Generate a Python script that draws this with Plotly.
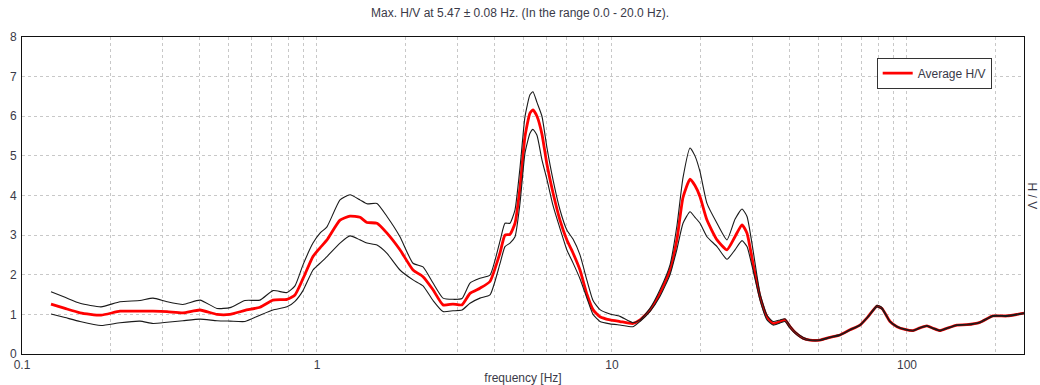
import math
import plotly.graph_objects as go

freq = [0.1254, 0.1399, 0.1573, 0.1853, 0.2149, 0.2512, 0.2780, 0.3101, 0.3513, 0.4013,
        0.4581, 0.5071, 0.5700, 0.6408, 0.7091, 0.7912, 0.8421, 0.8965, 0.9692, 1.024,
        1.081, 1.197, 1.294, 1.399, 1.477, 1.597, 1.727, 1.911, 2.116, 2.288,
        2.474, 2.674, 2.891, 3.101, 3.301, 3.568, 3.858, 4.172, 4.338, 4.511,
        4.691, 4.877, 5.071, 5.272, 5.397, 5.568, 5.789, 6.021, 6.310, 6.663,
        7.039, 7.376, 7.790, 8.230, 8.623, 9.107, 9.845, 10.64, 11.78, 12.44,
        13.45, 14.54, 15.73, 16.61, 17.41, 18.39, 19.11, 19.88, 20.99, 22.70,
        24.54, 26.12, 27.59, 28.69, 30.06, 31.75, 33.53, 35.14, 37.12, 38.59,
        40.13, 41.72, 44.41, 46.91, 50.71, 54.83, 59.28, 64.10, 69.29, 73.76,
        79.13, 82.30, 87.60, 92.48, 98.44, 104.8, 110.7, 116.9, 122.5, 129.4,
        136.6, 147.7, 159.7, 176.8, 195.6, 218.3, 249.3]

avg_hv = [1.26, 1.15, 1.04, 0.98, 1.08, 1.08, 1.08, 1.07, 1.04, 1.11,
          1.00, 1.00, 1.10, 1.18, 1.36, 1.38, 1.49, 1.90, 2.46, 2.68,
          2.88, 3.38, 3.48, 3.45, 3.32, 3.30, 3.05, 2.63, 2.12, 1.95,
          1.62, 1.24, 1.26, 1.24, 1.53, 1.66, 1.83, 2.55, 3.00, 3.02,
          3.30, 4.20, 5.49, 6.08, 6.16, 6.00, 5.55, 4.78, 4.07, 3.38,
          2.87, 2.55, 2.12, 1.50, 1.12, 0.94, 0.86, 0.82, 0.77, 0.86,
          1.11, 1.53, 2.12, 2.90, 3.95, 4.41, 4.25, 3.97, 3.38, 2.88,
          2.63, 2.96, 3.26, 3.05, 2.29, 1.45, 0.94, 0.77, 0.82, 0.86,
          0.69, 0.55, 0.40, 0.35, 0.35, 0.42, 0.48, 0.61, 0.73, 0.94,
          1.21, 1.15, 0.82, 0.69, 0.62, 0.59, 0.66, 0.71, 0.65, 0.59,
          0.65, 0.73, 0.74, 0.80, 0.96, 0.96, 1.03]

upper_hv = [1.57, 1.43, 1.28, 1.19, 1.32, 1.35, 1.41, 1.32, 1.25, 1.36,
            1.15, 1.17, 1.35, 1.36, 1.60, 1.55, 1.72, 2.25, 2.80, 3.05,
            3.21, 3.89, 4.02, 3.89, 3.79, 3.80, 3.47, 2.96, 2.29, 2.20,
            1.79, 1.41, 1.38, 1.40, 1.79, 1.91, 1.99, 2.85, 3.30, 3.30,
            3.64, 4.70, 5.99, 6.54, 6.62, 6.35, 6.00, 5.20, 4.40, 3.64,
            3.12, 2.90, 2.50, 1.85, 1.35, 1.12, 1.01, 0.95, 0.79, 0.86,
            1.15, 1.62, 2.25, 3.25, 4.45, 5.20, 5.00, 4.60, 3.80, 3.30,
            2.88, 3.40, 3.66, 3.47, 2.63, 1.53, 0.98, 0.82, 0.86, 0.89,
            0.72, 0.57, 0.42, 0.36, 0.36, 0.43, 0.49, 0.62, 0.74, 0.95,
            1.23, 1.17, 0.83, 0.70, 0.63, 0.60, 0.67, 0.72, 0.66, 0.60,
            0.66, 0.74, 0.75, 0.81, 0.97, 0.97, 1.04]

lower_hv = [1.01, 0.92, 0.82, 0.72, 0.79, 0.83, 0.77, 0.80, 0.84, 0.88,
            0.84, 0.83, 0.82, 0.98, 1.11, 1.19, 1.33, 1.60, 2.12, 2.29,
            2.46, 2.80, 2.98, 2.88, 2.80, 2.75, 2.54, 2.12, 1.87, 1.72,
            1.35, 1.07, 1.09, 1.11, 1.28, 1.41, 1.49, 2.28, 2.71, 2.80,
            2.96, 3.80, 5.07, 5.57, 5.67, 5.52, 4.90, 4.40, 3.75, 3.17,
            2.62, 2.30, 1.90, 1.40, 1.00, 0.82, 0.76, 0.73, 0.69, 0.82,
            1.07, 1.45, 2.00, 2.65, 3.30, 3.59, 3.45, 3.30, 2.96, 2.71,
            2.39, 2.63, 2.86, 2.71, 2.12, 1.36, 0.86, 0.73, 0.78, 0.82,
            0.65, 0.52, 0.38, 0.34, 0.34, 0.41, 0.47, 0.60, 0.72, 0.93,
            1.19, 1.13, 0.81, 0.68, 0.61, 0.58, 0.65, 0.70, 0.64, 0.58,
            0.64, 0.72, 0.73, 0.79, 0.95, 0.95, 1.02]

x_tick_vals = [0.1, 0.2, 0.3, 0.4, 0.5, 0.6, 0.7, 0.8, 0.9,
               1, 2, 3, 4, 5, 6, 7, 8, 9,
               10, 20, 30, 40, 50, 60, 70, 80, 90,
               100, 200]
x_tick_text = ["0.1", "", "", "", "", "", "", "", "",
               "1", "", "", "", "", "", "", "", "",
               "10", "", "", "", "", "", "", "", "",
               "100", ""]
y_tick_vals = [0, 1, 2, 3, 4, 5, 6, 7, 8]

title_text = "Max. H/V at 5.47 ± 0.08 Hz. (In the range 0.0 - 20.0 Hz)."

FONT = "Liberation Sans, Arial, sans-serif"
TXT = "#3a3a48"

fig = go.Figure()
fig.add_trace(go.Scatter(x=freq, y=avg_hv, mode="lines", name="Average H/V",
                         line=dict(color="#ff0000", width=2.8, shape="spline", smoothing=0.5),
                         showlegend=True))
fig.add_trace(go.Scatter(x=freq, y=upper_hv, mode="lines", name="upper",
                         line=dict(color="#1a1a1a", width=1.1, shape="spline", smoothing=0.5),
                         showlegend=False))
fig.add_trace(go.Scatter(x=freq, y=lower_hv, mode="lines", name="lower",
                         line=dict(color="#1a1a1a", width=1.1, shape="spline", smoothing=0.5),
                         showlegend=False))

fig.update_layout(
    width=1040, height=385,
    margin=dict(l=22, r=16, t=37, b=31, autoexpand=False),
    paper_bgcolor="white", plot_bgcolor="white",
    font=dict(family=FONT, size=12, color=TXT),
    title=dict(text=title_text, x=0.5, xanchor="center", y=1 - 13 / 385, yanchor="middle",
               font=dict(family=FONT, size=12, color=TXT)),
    legend=dict(x=0.853, y=0.935, xanchor="left", yanchor="top",
                bgcolor="white", bordercolor="#333333", borderwidth=1,
                font=dict(family=FONT, size=12, color=TXT),
                itemwidth=30, tracegroupgap=0),
    xaxis=dict(type="log", range=[-1, math.log10(249.3)], automargin=False,
               tickvals=x_tick_vals, ticktext=x_tick_text,
               showgrid=True, gridcolor="#c8c8c8", griddash="3px,3px", gridwidth=1,
               showline=True, linecolor="#111111", linewidth=1, mirror=True,
               ticks="", zeroline=False,
               title=dict(text="frequency [Hz]", standoff=4,
                          font=dict(family=FONT, size=12, color=TXT)),
               tickfont=dict(family=FONT, size=12, color=TXT)),
    yaxis=dict(range=[0, 8], tickvals=y_tick_vals, automargin=False,
               showgrid=True, gridcolor="#c8c8c8", griddash="3px,3px", gridwidth=1,
               showline=True, linecolor="#111111", linewidth=1, mirror=True,
               ticks="", zeroline=False, ticklabelstandoff=2,
               tickfont=dict(family=FONT, size=12, color=TXT)),
    annotations=[dict(text="H / V", xref="paper", yref="paper", x=1, y=0.5,
                      xanchor="center", yanchor="middle", xshift=8, textangle=90,
                      showarrow=False, font=dict(family=FONT, size=12, color=TXT))],
)

fig.write_html(
    "out.html",
    config={"displayModeBar": False},
    post_script="document.body.style.margin='0';document.body.style.overflow='hidden';",
)
